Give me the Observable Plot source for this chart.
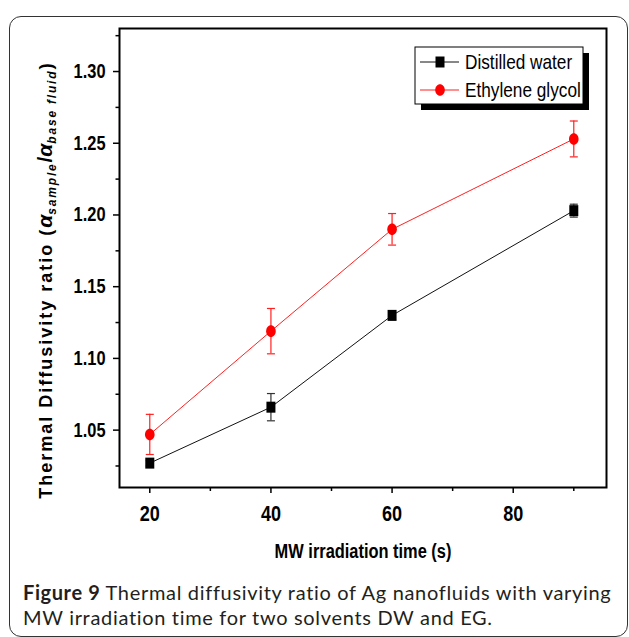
<!DOCTYPE html>
<html><head><meta charset="utf-8">
<script src="https://cdn.jsdelivr.net/npm/d3@7"></script>
<script src="https://cdn.jsdelivr.net/npm/@observablehq/plot@0.6"></script>
<style>
body{margin:0;background:#fff;width:629px;height:637px;overflow:hidden;position:relative;}
#border{position:absolute;left:9px;top:16px;width:619px;height:621px;border:1.5px solid #333;border-radius:12px;box-sizing:border-box}
#chart{position:absolute;left:0;top:0}
.cap{position:absolute;left:23px;font-family:Lato,"Open Sans",sans-serif;font-size:20px;line-height:normal;letter-spacing:0.68px;color:#231f20;white-space:nowrap}
.cap b{letter-spacing:0.6px}
</style></head>
<body>
<div id="border"></div>
<div id="chart"></div>
<div class="cap" style="top:580px"><b>Figure 9</b> Thermal diffusivity ratio of Ag nanofluids with varying</div>
<div class="cap" style="top:604.5px">MW irradiation time for two solvents DW and EG.</div>
<script>
const times = [20, 40, 60, 90];
const dwValues = [1.027, 1.066, 1.130, 1.203];
const dwErrors = [0.002, 0.0095, 0.003, 0.0045];
const egValues = [1.047, 1.119, 1.190, 1.253];
const egErrors = [0.014, 0.0158, 0.011, 0.0125];
const seriesNames = ["Distilled water", "Ethylene glycol"];
const xMajor = [20, 40, 60, 80];
const xMinor = [30, 50, 70, 90];
const yMajor = [1.05, 1.10, 1.15, 1.20, 1.25, 1.30];
const yMinor = [1.025, 1.075, 1.125, 1.175, 1.225, 1.275, 1.325];

const dw = times.map((t, i) => ({x: t, y: dwValues[i], lo: dwValues[i] - dwErrors[i], hi: dwValues[i] + dwErrors[i]}));
const eg = times.map((t, i) => ({x: t, y: egValues[i], lo: egValues[i] - egErrors[i], hi: egValues[i] + egErrors[i]}));

const SANS = '"Liberation Sans",Arial,sans-serif';

const squareSym = {draw(ctx) { ctx.rect(-4.5, -5.5, 9, 11); }};
const ellipseSym = {draw(ctx) {
  const rx = 4.8, ry = 5.8, k = 0.5523;
  ctx.moveTo(rx, 0);
  ctx.bezierCurveTo(rx, ry * k, rx * k, ry, 0, ry);
  ctx.bezierCurveTo(-rx * k, ry, -rx, ry * k, -rx, 0);
  ctx.bezierCurveTo(-rx, -ry * k, -rx * k, -ry, 0, -ry);
  ctx.bezierCurveTo(rx * k, -ry, rx, -ry * k, rx, 0);
  ctx.closePath();
}};
const capSym = {draw(ctx) { ctx.moveTo(-4, 0); ctx.lineTo(4, 0); }};

const chart = Plot.plot({
  width: 629, height: 570,
  marginLeft: 119, marginRight: 23, marginTop: 28, marginBottom: 83,
  style: {fontFamily: SANS, background: "transparent", overflow: "visible"},
  x: {domain: [15, 95.4]},
  y: {domain: [1.01, 1.33]},
  marks: [
    Plot.axisY(yMajor, {tickSize: 6, tickPadding: 8, fontSize: 20, fontWeight: "bold", tickFormat: d => d.toFixed(2), label: null, strokeWidth: 1.5, fill: "black"}),
    Plot.axisY(yMinor, {tickSize: 3.5, tickFormat: () => "", label: null, strokeWidth: 1.5}),
    Plot.axisX(xMajor, {tickSize: 6, tickPadding: 12, fontSize: 22, fontWeight: "bold", label: null, strokeWidth: 1.5, fill: "black"}),
    Plot.axisX(xMinor, {tickSize: 4, tickFormat: () => "", label: null, strokeWidth: 1.5}),
    Plot.frame({strokeWidth: 2, stroke: "black"}),
    Plot.text(["MW irradiation time (s)"], {frameAnchor: "bottom", dy: 70, fontSize: 20, fontWeight: "bold", fill: "black"}),
    Plot.line(dw, {x: "x", y: "y", stroke: "#111", strokeWidth: 1}),
    Plot.line(eg, {x: "x", y: "y", stroke: "#ff2020", strokeWidth: 1}),
    Plot.ruleX(dw, {x: "x", y1: "lo", y2: "hi", stroke: "#333", strokeWidth: 1.2}),
    Plot.dot(dw, {x: "x", y: "lo", symbol: capSym, stroke: "#333", fill: "none", strokeWidth: 1.2}),
    Plot.dot(dw, {x: "x", y: "hi", symbol: capSym, stroke: "#333", fill: "none", strokeWidth: 1.2}),
    Plot.ruleX(eg, {x: "x", y1: "lo", y2: "hi", stroke: "#ff2020", strokeWidth: 1.2}),
    Plot.dot(eg, {x: "x", y: "lo", symbol: capSym, stroke: "#ff2020", fill: "none", strokeWidth: 1.2}),
    Plot.dot(eg, {x: "x", y: "hi", symbol: capSym, stroke: "#ff2020", fill: "none", strokeWidth: 1.2}),
    Plot.dot(dw, {x: "x", y: "y", symbol: squareSym, fill: "black", stroke: "none"}),
    Plot.dot(eg, {x: "x", y: "y", symbol: ellipseSym, fill: "#ff0000", stroke: "none"})
  ]
});
document.getElementById("chart").appendChild(chart);

const svg = d3.select(chart);

// Legend
const lg = svg.append("g");
lg.append("rect").attr("x", 421).attr("y", 53).attr("width", 168).attr("height", 57).attr("fill", "black");
lg.append("rect").attr("x", 415).attr("y", 47).attr("width", 168).attr("height", 57).attr("fill", "white").attr("stroke", "black").attr("stroke-width", 1);
const rows = [
  {name: seriesNames[0], color: "#111", sym: squareSym, fill: "black", y: 62},
  {name: seriesNames[1], color: "#ff2020", sym: ellipseSym, fill: "#ff0000", y: 90}
];
rows.forEach(r => {
  lg.append("line").attr("x1", 420).attr("x2", 459).attr("y1", r.y).attr("y2", r.y).attr("stroke", r.color).attr("stroke-width", 1);
  lg.append("path").attr("d", d3.symbol(r.sym)()).attr("transform", `translate(440,${r.y})`).attr("fill", r.fill);
  lg.append("text").attr("x", 465).attr("y", r.y).attr("dy", "0.35em").attr("text-anchor", "start")
    .attr("font-family", SANS).attr("font-size", 21).attr("fill", "black").text(r.name);
});

// Narrow (Arial Narrow-like) rendering of all chart texts so far
svg.selectAll("text").each(function() {
  const L = this.getComputedTextLength();
  if (L > 0) {
    this.setAttribute("textLength", (L * 0.82).toFixed(2));
    this.setAttribute("lengthAdjust", "spacingAndGlyphs");
  }
});

// Y axis title with subscripts
const yt = svg.append("text")
  .attr("transform", "translate(52,281) rotate(-90)")
  .attr("text-anchor", "middle")
  .attr("font-family", SANS)
  .attr("font-weight", "bold")
  .attr("font-size", 18)
  .attr("fill", "black");
yt.append("tspan").attr("letter-spacing", 2).text("Thermal Diffusivity ratio (");
yt.append("tspan").attr("font-style", "italic").attr("font-size", 21).text("α");
yt.append("tspan").attr("font-style", "italic").attr("font-size", 12).attr("dy", 4).attr("letter-spacing", 1.8).text("sample");
yt.append("tspan").attr("dy", -4).attr("font-size", 21).text("/");
yt.append("tspan").attr("font-style", "italic").attr("font-size", 21).text("α");
yt.append("tspan").attr("font-style", "italic").attr("font-size", 12).attr("dy", 4).attr("letter-spacing", 1.8).text("base fluid");
yt.append("tspan").attr("dy", -4).attr("font-size", 19).text(")");
</script>
</body></html>
